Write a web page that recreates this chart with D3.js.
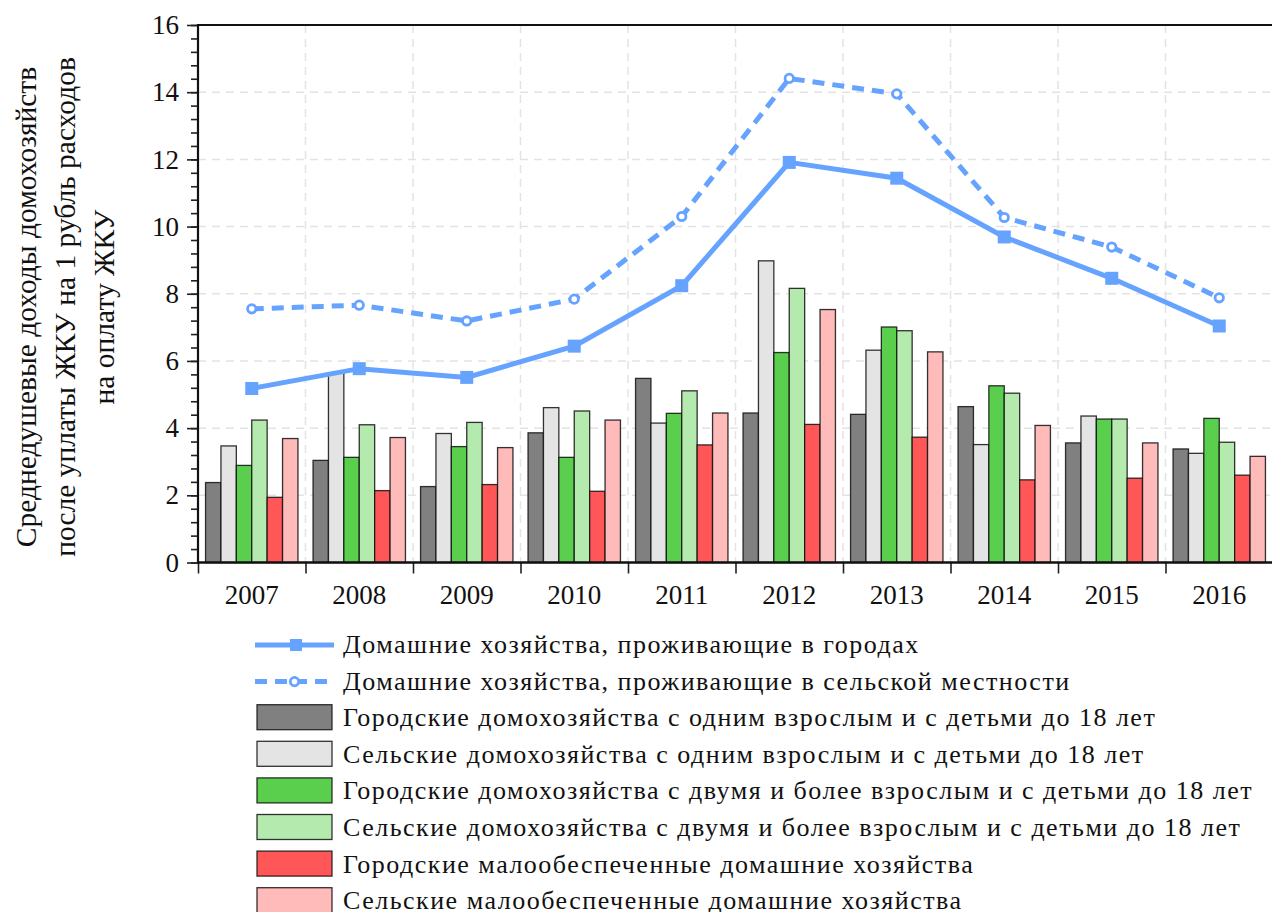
<!DOCTYPE html>
<html><head><meta charset="utf-8">
<script src="https://cdn.jsdelivr.net/npm/d3@7"></script>
<style>
html,body{margin:0;padding:0;background:#fff;}
svg{display:block;}
svg text{font-family:"Liberation Serif","DejaVu Serif","Noto Serif",Tinos,serif;fill:#111;}
</style></head>
<body>
<svg id="chart" width="1272" height="912"></svg>
<script>
const years = ['2007','2008','2009','2010','2011','2012','2013','2014','2015','2016'];
const urbanLine = [5.18, 5.77, 5.51, 6.44, 8.24, 11.91, 11.44, 9.69, 8.46, 7.04];
const ruralLine = [7.55, 7.66, 7.19, 7.84, 10.30, 14.41, 13.95, 10.27, 9.39, 7.88];
const urbanSingle = [2.38, 3.04, 2.26, 3.86, 5.48, 4.45, 4.41, 4.64, 3.56, 3.38];
const ruralSingle = [3.47, 5.65, 3.84, 4.61, 4.15, 8.98, 6.32, 3.51, 4.36, 3.25];
const urbanTwo = [2.89, 3.13, 3.45, 3.13, 4.44, 6.25, 7.01, 5.26, 4.27, 4.29];
const ruralTwo = [4.24, 4.10, 4.17, 4.51, 5.11, 8.16, 6.90, 5.04, 4.27, 3.58];
const urbanPoor = [1.94, 2.14, 2.32, 2.12, 3.50, 4.11, 3.73, 2.46, 2.51, 2.60];
const ruralPoor = [3.69, 3.72, 3.42, 4.24, 4.45, 7.53, 6.27, 4.08, 3.56, 3.16];
const yTicks = [0, 2, 4, 6, 8, 10, 12, 14, 16];
const lineNames = ['Домашние хозяйства, проживающие в городах', 'Домашние хозяйства, проживающие в сельской местности'];
const barNames = [
  'Городские домохозяйства с одним взрослым и с детьми до 18 лет',
  'Сельские домохозяйства с одним взрослым и с детьми до 18 лет',
  'Городские домохозяйства с двумя и более взрослым и с детьми до 18 лет',
  'Сельские домохозяйства с двумя и более взрослым и с детьми до 18 лет',
  'Городские малообеспеченные домашние хозяйства',
  'Сельские малообеспеченные домашние хозяйства'
];
const yLabelLines = ['Среднедушевые доходы домохозяйств', 'после уплаты ЖКУ на 1 рубль расходов', 'на оплату ЖКУ'];

const barSeries = [urbanSingle, ruralSingle, urbanTwo, ruralTwo, urbanPoor, ruralPoor];
const barColors = ['#808080', '#e4e4e4', '#5acf4e', '#b5eaae', '#ff5757', '#ffbaba'];
const lineColor = '#66a3ff';

const svg = d3.select('#chart');
const L = 198, R = 1273, T = 25, B = 562.5;

const x = d3.scaleBand().domain(years).range([L, R]).padding(0);
const xb = d3.scaleBand().domain(d3.range(6)).range([0, x.bandwidth()]).paddingInner(0).paddingOuter(0.49);
const xBound = d3.scaleLinear().domain([0, years.length]).range([L, R]);
const y = d3.scaleLinear().domain([0, 16]).range([B, T]);

// grid
const grid = svg.append('g').attr('stroke', '#e3e3e3').attr('stroke-width', 1.5).attr('stroke-dasharray', '8,6');
grid.selectAll('line.h').data(yTicks.filter(v => v > 0 && v < 16)).join('line')
  .attr('x1', L).attr('x2', R).attr('y1', d => y(d)).attr('y2', d => y(d));
grid.selectAll('line.v').data(d3.range(1, years.length)).join('line')
  .attr('y1', T).attr('y2', B).attr('x1', d => xBound(d)).attr('x2', d => xBound(d));

// bars
const groups = svg.append('g').selectAll('g').data(years).join('g')
  .attr('transform', d => `translate(${x(d)},0)`);
groups.selectAll('rect').data((yr, i) => barSeries.map((s, k) => ({k, v: s[i]}))).join('rect')
  .attr('x', d => xb(d.k)).attr('width', xb.bandwidth())
  .attr('y', d => y(d.v)).attr('height', d => B - y(d.v))
  .attr('fill', d => barColors[d.k]).attr('stroke', '#111').attr('stroke-opacity', 0.85).attr('stroke-width', 1.3);

// lines
const line = d3.line().x((d, i) => x(years[i]) + x.bandwidth() / 2).y(d => y(d));
svg.append('path').datum(ruralLine).attr('d', line).attr('fill', 'none')
  .attr('stroke', lineColor).attr('stroke-width', 5).attr('stroke-dasharray', '12,8');
svg.append('path').datum(urbanLine).attr('d', line).attr('fill', 'none')
  .attr('stroke', lineColor).attr('stroke-width', 5);
svg.append('g').selectAll('rect').data(urbanLine).join('rect')
  .attr('x', (d, i) => x(years[i]) + x.bandwidth() / 2 - 6.5).attr('y', d => y(d) - 6.5)
  .attr('width', 13).attr('height', 13).attr('fill', lineColor);
svg.append('g').selectAll('circle').data(ruralLine).join('circle')
  .attr('cx', (d, i) => x(years[i]) + x.bandwidth() / 2).attr('cy', d => y(d))
  .attr('r', 4.2).attr('fill', '#fff').attr('stroke', lineColor).attr('stroke-width', 2.8);

// axes
const yMinor = svg.append('g').attr('transform', `translate(${L},0)`)
  .call(d3.axisLeft(y).tickValues(d3.range(0, 16.01, 0.4)).tickSize(7).tickFormat(''));
const yAxis = svg.append('g').attr('transform', `translate(${L},0)`)
  .call(d3.axisLeft(y).tickValues(yTicks).tickSize(11).tickPadding(8).tickFormat(d3.format('d')));
[yMinor, yAxis].forEach(g => { g.attr('font-family', null); g.select('.domain').remove(); g.selectAll('line').attr('stroke', '#222').attr('stroke-width', 1.6); });
yAxis.selectAll('text').attr('font-size', 27).attr('fill', '#111');

const xTicks = svg.append('g').attr('transform', `translate(0,${B})`)
  .call(d3.axisBottom(xBound).tickValues(d3.range(0, years.length + 1)).tickSize(11).tickFormat(''));
xTicks.select('.domain').remove();
xTicks.selectAll('line').attr('stroke', '#222').attr('stroke-width', 1.6);
const xAxis = svg.append('g').attr('transform', `translate(0,${B})`)
  .call(d3.axisBottom(x).tickSize(0).tickPadding(22));
xAxis.attr('font-family', null);
xAxis.select('.domain').remove();
xAxis.selectAll('text').attr('font-size', 27).attr('fill', '#111');

// frame lines
svg.append('line').attr('x1', L).attr('x2', R).attr('y1', B).attr('y2', B).attr('stroke', '#111').attr('stroke-width', 2.6);
svg.append('line').attr('x1', L).attr('x2', R).attr('y1', T).attr('y2', T).attr('stroke', '#111').attr('stroke-width', 2.2);
svg.append('line').attr('x1', L).attr('x2', L).attr('y1', T - 1).attr('y2', B + 1).attr('stroke', '#111').attr('stroke-width', 2.2);

// y label
const yLabBase = [36, 74.5, 114];
svg.append('g').selectAll('text').data(yLabelLines).join('text')
  .attr('transform', (d, i) => `translate(${yLabBase[i]},307) rotate(-90)`)
  .attr('text-anchor', 'middle').attr('font-size', 29.5).text(d => d);

// legend
const legY = i => 644 + i * 36.6;
const leg = svg.append('g');
lineNames.forEach((name, i) => {
  const g = leg.append('g').attr('transform', `translate(0,${legY(i) + 1})`);
  g.append('line').attr('x1', 255).attr('x2', 334).attr('y1', 0).attr('y2', 0)
    .attr('stroke', lineColor).attr('stroke-width', 5).attr('stroke-dasharray', i ? '12,8' : null);
  if (i === 0) g.append('rect').attr('x', 290).attr('y', -6).attr('width', 12).attr('height', 12).attr('fill', lineColor);
  else g.append('circle').attr('cx', 294.5).attr('cy', 0).attr('r', 4.2).attr('fill', '#fff').attr('stroke', lineColor).attr('stroke-width', 2.8);
});
barNames.forEach((name, k) => {
  leg.append('rect').attr('x', 257).attr('y', legY(k + 2) - 12.5).attr('width', 75).attr('height', 25)
    .attr('fill', barColors[k]).attr('stroke', '#111').attr('stroke-opacity', 0.85).attr('stroke-width', 1.3);
});
leg.selectAll('text').data(lineNames.concat(barNames)).join('text')
  .attr('x', 343).attr('y', (d, i) => legY(i) + 9).attr('font-size', 26)
  .attr('letter-spacing', 1.5).text(d => d);
</script>
</body></html>
